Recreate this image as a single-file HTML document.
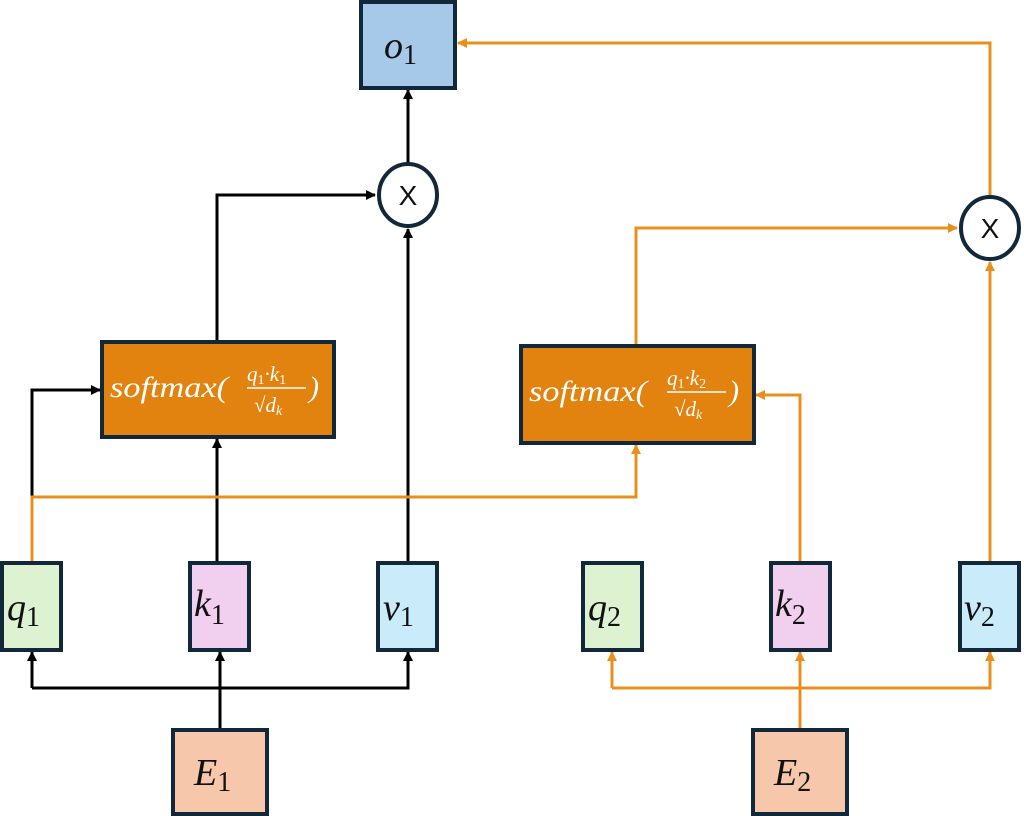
<!DOCTYPE html>
<html><head><style>body{margin:0;background:#fff}svg{display:block}text{font-family:"Liberation Serif",serif;font-style:italic}text.x{font-family:"Liberation Sans",sans-serif;font-style:normal}</style></head>
<body>
<svg width="1024" height="816" viewBox="0 0 1024 816" xmlns="http://www.w3.org/2000/svg">
<defs>
<marker id="ab" markerWidth="10" markerHeight="10" refX="9" refY="5" orient="auto" markerUnits="userSpaceOnUse"><path d="M0,0 L10,5 L0,10 z" fill="#000"/></marker>
<marker id="ao" markerWidth="10" markerHeight="10" refX="9" refY="5" orient="auto" markerUnits="userSpaceOnUse"><path d="M0,0 L10,5 L0,10 z" fill="#E8901E"/></marker>
</defs>
<g fill="none" stroke-width="3">
<g stroke="#000" marker-end="url(#ab)">
<path d="M220 730 V652"/>
<path d="M32 688 H408 V652"/>
<path d="M32 688 V652"/>
<path d="M32 563 V390 H100"/>
<path d="M217 563 V439"/>
<path d="M408 563 V229"/>
<path d="M217 342 V195 H375"/>
<path d="M408 163 V90"/>
</g>
<g stroke="#E8901E" marker-end="url(#ao)">
<path d="M800 730 V652"/>
<path d="M612 688 H990 V652"/>
<path d="M612 688 V652"/>
<path d="M32 563 V497 H636 V445"/>
<path d="M800 563 V395 H756"/>
<path d="M990 563 V262"/>
<path d="M636 346 V228 H957"/>
<path d="M990 196 V43 H458"/>
</g>
</g>
<g stroke="#10283a" stroke-width="4">
<rect x="361" y="2" width="94" height="86" fill="#a6c9ea"/>
<ellipse cx="408" cy="195" rx="29" ry="31" fill="#fff"/>
<ellipse cx="990" cy="228" rx="29" ry="31" fill="#fff"/>
<rect x="102" y="342" width="232" height="95" fill="#E2820F"/>
<rect x="521" y="346" width="233" height="97" fill="#E2820F"/>
<rect x="2" y="563" width="59" height="87" fill="#dcf2d1"/>
<rect x="190" y="563" width="59" height="87" fill="#f1d0ef"/>
<rect x="378" y="563" width="59" height="87" fill="#c9ebfa"/>
<rect x="583" y="563" width="59" height="87" fill="#dcf2d1"/>
<rect x="771" y="563" width="59" height="87" fill="#f1d0ef"/>
<rect x="960" y="563" width="59" height="87" fill="#c9ebfa"/>
<rect x="173" y="730" width="94" height="84" fill="#f6c7ab"/>
<rect x="753" y="730" width="94" height="84" fill="#f6c7ab"/>
</g>
<g font-size="38" fill="#111">
<text x="384" y="58">o<tspan font-size="28" font-style="normal" dy="6">1</tspan></text>
<text x="7" y="620">q<tspan font-size="28" font-style="normal" dy="6">1</tspan></text>
<text x="194" y="616">k<tspan font-size="28" font-style="normal" dy="8">1</tspan></text>
<text x="383" y="620">v<tspan font-size="28" font-style="normal" dy="6">1</tspan></text>
<text x="588" y="620">q<tspan font-size="28" font-style="normal" dy="6">2</tspan></text>
<text x="775" y="616">k<tspan font-size="28" font-style="normal" dy="8">2</tspan></text>
<text x="964" y="620">v<tspan font-size="28" font-style="normal" dy="6">2</tspan></text>
<text x="194" y="785">E<tspan font-size="28" font-style="normal" dy="6">1</tspan></text>
<text x="774" y="785">E<tspan font-size="28" font-style="normal" dy="6">2</tspan></text>
</g>
<g font-size="28" fill="#111" text-anchor="middle">
<text class="x" x="408" y="205">X</text>
<text class="x" x="990" y="238">X</text>
</g>
<g fill="#fff">
<text x="110" y="397" font-size="30" textLength="118" lengthAdjust="spacingAndGlyphs">softmax(</text>
<text x="247" y="381" font-size="21">q<tspan font-size="14" font-style="normal" dy="3">1</tspan><tspan dy="-3">·k</tspan><tspan font-size="14" font-style="normal" dy="3">1</tspan></text>
<line x1="247" y1="388" x2="306" y2="388" stroke="#fff" stroke-width="1.5"/>
<text x="254" y="412" font-size="21" font-style="normal">√<tspan font-style="italic">d</tspan><tspan font-size="14" dy="3">k</tspan></text>
<text x="309" y="397" font-size="30">)</text>
<text x="529" y="401" font-size="30" textLength="118" lengthAdjust="spacingAndGlyphs">softmax(</text>
<text x="667" y="385" font-size="21">q<tspan font-size="14" font-style="normal" dy="3">1</tspan><tspan dy="-3">·k</tspan><tspan font-size="14" font-style="normal" dy="3">2</tspan></text>
<line x1="667" y1="392" x2="726" y2="392" stroke="#fff" stroke-width="1.5"/>
<text x="674" y="416" font-size="21" font-style="normal">√<tspan font-style="italic">d</tspan><tspan font-size="14" dy="3">k</tspan></text>
<text x="729" y="401" font-size="30">)</text>
</g>
</svg>
</body></html>
